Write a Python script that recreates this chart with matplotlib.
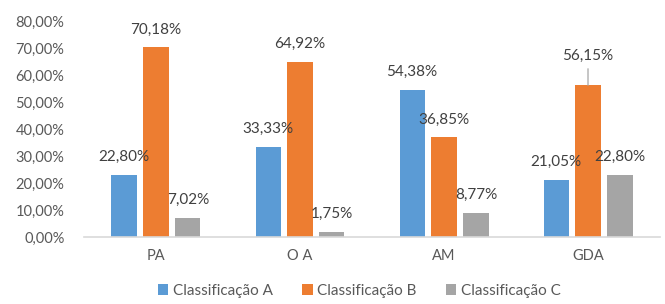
import numpy as np
import matplotlib
matplotlib.use("Agg")
import matplotlib.pyplot as plt
from matplotlib.ticker import FuncFormatter

categories = ["PA", "O A", "AM", "GDA"]
series_names = ["Classificação A", "Classificação B", "Classificação C"]
class_a = [22.80, 33.33, 54.38, 21.05]
class_b = [70.18, 64.92, 36.85, 56.15]
class_c = [7.02, 1.75, 8.77, 22.80]
colors = ["#5B9BD5", "#ED7D31", "#A5A5A5"]

plt.rcParams["font.family"] = ["Lato", "DejaVu Sans"]

fig = plt.figure(figsize=(6.65, 3.04), dpi=100)
ax = fig.add_axes([0.1263, 0.2204, 0.8662, 0.7106])

x = np.arange(len(categories))
width = 0.174
step = 0.222

def pct(v):
    return ("%.2f%%" % v).replace(".", ",")

for i, (vals, name) in enumerate(zip([class_a, class_b, class_c], series_names)):
    xs = x + (i - 1) * step
    ax.bar(xs, vals, width, color=colors[i], label=name)
    for xi, v in zip(xs, vals):
        if name == "Classificação B" and v == 56.15:
            # this one was dragged up in the original, with a leader line
            ax.annotate(pct(v), xy=(xi, v), xytext=(0, 21), textcoords="offset points",
                        ha="center", va="center", fontsize=11, color="#404040",
                        arrowprops=dict(arrowstyle="-", color="#A6A6A6", lw=0.9,
                                        shrinkA=2, shrinkB=0))
        else:
            ax.annotate(pct(v), xy=(xi, v), xytext=(0, 13), textcoords="offset points",
                        ha="center", va="center", fontsize=11, color="#404040")

ax.set_xlim(-0.5, len(categories) - 0.5)
ax.set_ylim(0, 80)
ax.set_yticks(np.arange(0, 81, 10))
ax.yaxis.set_major_formatter(FuncFormatter(lambda v, p: pct(v)))
ax.set_xticks(x)
ax.set_xticklabels(categories)
ax.tick_params(axis="both", length=0, labelsize=10.5, labelcolor="#595959")
ax.tick_params(axis="x", pad=9)
ax.tick_params(axis="y", pad=14)
for s in ["top", "right", "left"]:
    ax.spines[s].set_visible(False)
ax.spines["bottom"].set_color("#D9D9D9")
ax.spines["bottom"].set_linewidth(1.2)

fig.legend(loc="lower center", bbox_to_anchor=(0.54, -0.025), ncol=3, frameon=False,
           handlelength=0.7, handleheight=0.7, handletextpad=0.3, columnspacing=1.9,
           prop={"size": 11}, labelcolor="#595959")

fig.savefig("out.png", dpi=100)
